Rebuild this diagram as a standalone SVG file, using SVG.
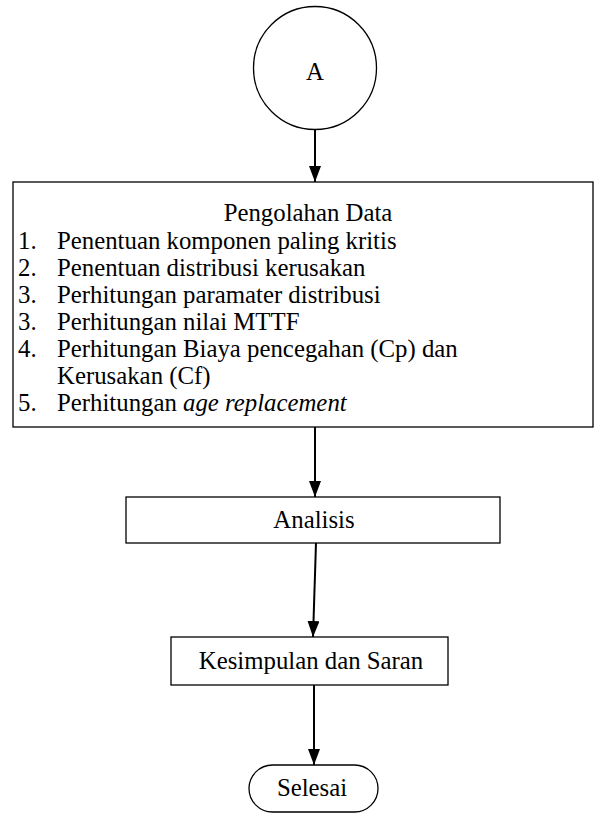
<svg xmlns="http://www.w3.org/2000/svg" width="595" height="837" viewBox="0 0 595 837">
<defs>
<marker id="ah" markerWidth="16" markerHeight="12" refX="16" refY="6" orient="auto" markerUnits="userSpaceOnUse">
<path d="M0,0 L16,6 L0,12 Z" fill="#000"/>
</marker>
<style>
.s{fill:#fff;stroke:#000;stroke-width:1.3}
.t{font-family:"Liberation Serif","Times New Roman",serif;font-size:24.8px;fill:#000}
.c{stroke:#000;stroke-width:2;fill:none}
</style>
</defs>
<rect width="595" height="837" fill="#fff"/>
<g id="connectors">
<line class="c" x1="315" y1="128" x2="315" y2="182" marker-end="url(#ah)"/>
<line class="c" x1="315" y1="427" x2="315" y2="497" marker-end="url(#ah)"/>
<line class="c" x1="316" y1="543" x2="313" y2="637" marker-end="url(#ah)"/>
<line class="c" x1="314" y1="685" x2="314" y2="765" marker-end="url(#ah)"/>
</g>
<g id="nodeA">
<circle class="s" cx="315" cy="68" r="61.5"/>
<text class="t" x="315" y="80" text-anchor="middle">A</text>
</g>
<g id="pengolahan">
<rect class="s" x="13" y="182" width="580" height="245"/>
<text class="t" x="308" y="221" text-anchor="middle">Pengolahan Data</text>
<text class="t" x="18" y="249">1.</text><text class="t" x="57" y="249">Penentuan komponen paling kritis</text>
<text class="t" x="18" y="276">2.</text><text class="t" x="57" y="276">Penentuan distribusi kerusakan</text>
<text class="t" x="18" y="303">3.</text><text class="t" x="57" y="303">Perhitungan paramater distribusi</text>
<text class="t" x="18" y="330">3.</text><text class="t" x="57" y="330">Perhitungan nilai MTTF</text>
<text class="t" x="18" y="357">4.</text><text class="t" x="57" y="357">Perhitungan Biaya pencegahan (Cp) dan</text>
<text class="t" x="57" y="384">Kerusakan (Cf)</text>
<text class="t" x="18" y="411">5.</text><text class="t" x="57" y="411">Perhitungan <tspan font-style="italic">age replacement</tspan></text>
</g>
<g id="analisis">
<rect class="s" x="126" y="497" width="374" height="46"/>
<text class="t" x="314" y="528" text-anchor="middle">Analisis</text>
</g>
<g id="kesimpulan">
<rect class="s" x="171" y="637" width="277" height="48"/>
<text class="t" x="311" y="669" text-anchor="middle">Kesimpulan dan Saran</text>
</g>
<g id="selesai">
<rect class="s" x="249" y="765" width="129" height="47" rx="23.5" ry="23.5"/>
<text class="t" x="312" y="796" text-anchor="middle">Selesai</text>
</g>
</svg>
